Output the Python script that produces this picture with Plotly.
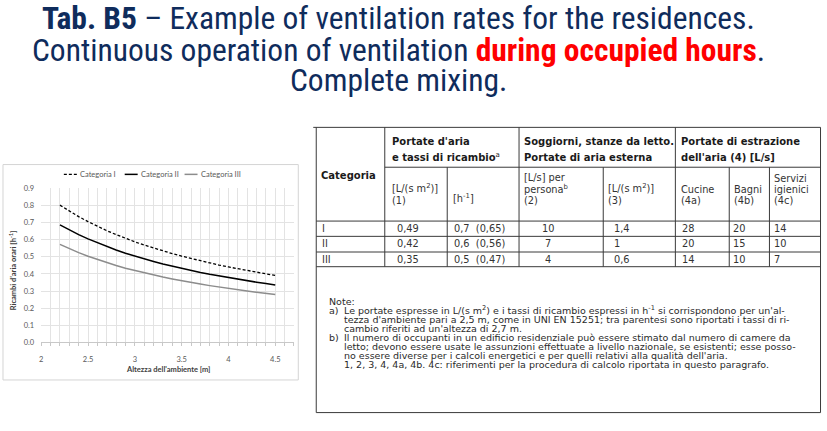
import plotly.graph_objects as go

W, H = 827, 431

# ---------------- chart data ----------------
heights = [2.2, 2.3, 2.4, 2.5, 2.6, 2.7, 2.8, 2.9, 3.0, 3.1, 3.2, 3.3,
           3.4, 3.5, 3.6, 3.7, 3.8, 3.9, 4.0, 4.1, 4.2, 4.3, 4.4, 4.5]
cat_I = [0.802, 0.767, 0.735, 0.706, 0.678, 0.653, 0.630, 0.608, 0.588, 0.569, 0.551, 0.535,
         0.519, 0.504, 0.490, 0.477, 0.464, 0.452, 0.441, 0.430, 0.420, 0.410, 0.401, 0.392]
cat_II = [0.687, 0.657, 0.630, 0.605, 0.582, 0.560, 0.540, 0.521, 0.504, 0.488, 0.473, 0.458,
          0.445, 0.432, 0.420, 0.409, 0.398, 0.388, 0.378, 0.369, 0.360, 0.352, 0.344, 0.336]
cat_III = [0.573, 0.548, 0.525, 0.504, 0.485, 0.467, 0.450, 0.434, 0.420, 0.406, 0.394, 0.382,
           0.371, 0.360, 0.350, 0.341, 0.332, 0.323, 0.315, 0.307, 0.300, 0.293, 0.286, 0.280]
series_names = ["Categoria I", "Categoria II", "Categoria III"]
x_ticks = [2, 2.5, 3, 3.5, 4, 4.5]
x_tick_labels = ["2", "2.5", "3", "3.5", "4", "4.5"]
y_ticks = [0.0, 0.1, 0.2, 0.3, 0.4, 0.5, 0.6, 0.7, 0.8, 0.9]
y_tick_labels = ["0.0", "0.1", "0.2", "0.3", "0.4", "0.5", "0.6", "0.7", "0.8", "0.9"]

# ---------------- table data ----------------
categories = ["I", "II", "III"]
col_Lsm2 = ["0,49", "0,42", "0,35"]
col_h = ["0,7  (0,65)", "0,6  (0,56)", "0,5  (0,47)"]
col_persona = ["10", "7", "4"]
col_Lsm2_b = ["1,4", "1", "0,6"]
col_cucine = ["28", "20", "14"]
col_bagni = ["20", "15", "10"]
col_servizi = ["14", "10", "7"]

notes_labels = ["Note:", "a)", "", "", "b)", "", "", ""]
notes_lines = [
    "",
    "Le portate espresse in L/(s m<sup>2</sup>) e i tassi di ricambio espressi in h<sup>-1</sup> si corrispondono per un'al-",
    "tezza d'ambiente pari a 2,5 m, come in UNI EN 15251; tra parentesi sono riportati i tassi di ri-",
    "cambio riferiti ad un'altezza di 2,7 m.",
    "Il numero di occupanti in un edificio residenziale può essere stimato dal numero di camere da",
    "letto; devono essere usate le assunzioni effettuate a livello nazionale, se esistenti; esse posso-",
    "no essere diverse per i calcoli energetici e per quelli relativi alla qualità dell'aria.",
    "1, 2, 3, 4, 4a, 4b. 4c: riferimenti per la procedura di calcolo riportata in questo paragrafo.",
]


def px(x):
    return x / W


def py(y):
    return 1 - y / H


fig = go.Figure()
line_styles = [dict(color="#000000", width=1.3, dash="3px,2px"),
               dict(color="#000000", width=1.5),
               dict(color="#8c8c8c", width=1.5)]
for name, vals, ls in zip(series_names, [cat_I, cat_II, cat_III], line_styles):
    fig.add_trace(go.Scatter(x=heights, y=vals, mode="lines", name=name, line=ls,
                             showlegend=False, hoverinfo="skip"))

TICKFONT = dict(family="Lato, Carlito, 'Open Sans', sans-serif", size=7.5, color="#595959")
fig.update_layout(
    width=W, height=H, margin=dict(l=0, r=0, t=0, b=0),
    paper_bgcolor="white", plot_bgcolor="white",
    xaxis=dict(domain=[px(39.3), px(292.7)], range=[2, 4.7], tickvals=x_ticks, ticktext=x_tick_labels,
               showgrid=True, gridcolor="#e3e3e3", gridwidth=1,
               minor=dict(dtick=0.1, tick0=2, showgrid=True, gridcolor="#e3e3e3", ticks="outside",
                          ticklen=3, tickcolor="#c8c8c8"),
               ticks="outside", ticklen=3, tickcolor="#c8c8c8",
               showline=True, linecolor="#c8c8c8", linewidth=1, zeroline=False,
               tickfont=TICKFONT, ticklabelstandoff=7, fixedrange=True),
    yaxis=dict(domain=[py(345.7), py(188.3)], range=[0, 0.9], tickvals=y_ticks, ticktext=y_tick_labels,
               showgrid=True, gridcolor="#e3e3e3", gridwidth=1, zeroline=False, showline=False,
               tickfont=TICKFONT, ticklabelstandoff=6, fixedrange=True),
)

shapes = []
annotations = []

# chart frame
shapes.append(dict(type="rect", xref="paper", yref="paper", x0=px(1), x1=px(297), y0=py(384), y1=py(164),
                   line=dict(color="#d4d4d4", width=1)))

# legend (custom, Excel-like)
leg_font = dict(family="Lato, Carlito, 'Open Sans', sans-serif", size=7.5, color="#595959")
leg_x = [62, 123, 183]
for name, ls, lx in zip(series_names, line_styles, leg_x):
    shapes.append(dict(type="line", xref="paper", yref="paper", x0=px(lx), x1=px(lx + 13),
                       y0=py(174), y1=py(174), line=ls))
    annotations.append(dict(text=name, x=px(lx + 14), y=py(174), xref="paper", yref="paper",
                            xanchor="left", yanchor="middle", showarrow=False, font=leg_font))

# axis titles
ax_font = dict(family="Lato, Carlito, 'Open Sans', sans-serif", size=7.5, color="#404040")
annotations.append(dict(text="<b>Altezza dell'ambiente [m]</b>", x=px(166), y=py(373), xref="paper",
                        yref="paper", showarrow=False, font=ax_font, xanchor="center", yanchor="middle"))
annotations.append(dict(text="<b>Ricambi d'aria orari [h<sup>-1</sup>]</b>", x=px(11), y=py(272),
                        xref="paper", yref="paper", showarrow=False, font=ax_font, textangle=-90,
                        xanchor="center", yanchor="middle"))

# title
TFONT = "'Liberation Sans Narrow', 'Arial Narrow', 'Roboto Condensed', 'Liberation Sans', sans-serif"
navy = "#0f2c5c"
title_lines = [
    ("<b>Tab. B5</b> – Example of ventilation rates for the residences.", 14.5),
    ("Continuous operation of ventilation <b><span style='color:#ff0000'>during occupied hours</span></b>.", 47.5),
    ("Complete mixing.", 78.5),
]
for t, ty in title_lines:
    annotations.append(dict(text=t, x=px(397), y=py(ty), xref="paper", yref="paper", showarrow=False,
                            font=dict(family=TFONT, size=31.5, color=navy), xanchor="center", yanchor="middle"))

# ---------------- table ----------------
tcol = "#3a3a3a"
lw = 1
L, R = 315, 820.5
TOP, R1, R2, RI, RII, RIII, BOT = 126, 166.7, 221.7, 237.3, 253.3, 268.3, 417.3
hlines = [(312, R, TOP), (383.7, R, R1), (L, R, R2), (L, R, RI), (L, R, RII), (L, R, RIII), (L, R, BOT)]
vlines = [(L, TOP, BOT), (383.7, TOP, RIII), (446.3, R1, RIII), (518.3, TOP, RIII), (602.7, R1, RIII),
          (675, TOP, RIII), (729, R1, RIII), (769.3, R1, RIII), (R, TOP, BOT)]
for x0, x1, y in hlines:
    shapes.append(dict(type="line", xref="paper", yref="paper", x0=px(x0), x1=px(x1), y0=py(y), y1=py(y),
                       line=dict(color=tcol, width=lw)))
for x, y0, y1 in vlines:
    shapes.append(dict(type="line", xref="paper", yref="paper", x0=px(x), x1=px(x), y0=py(y0), y1=py(y1),
                       line=dict(color=tcol, width=lw)))

TBF = "'DejaVu Sans', Verdana, sans-serif"
hdr_font = dict(family=TBF, size=10, color="#1a1a1a")
cell_font = dict(family=TBF, size=9.8, color="#333333")


def txt(s, x, y, font, anchor="left"):
    # y is the visual centre of a plain line; anchor the box bottom so that
    # superscripts grow upward and baselines stay aligned
    off = (font["size"] * 1.3 + 2) / 2
    annotations.append(dict(text=s, x=px(x), y=py(y + off), xref="paper", yref="paper", showarrow=False,
                            font=font, xanchor=anchor, yanchor="bottom", borderpad=1))


txt("<b>Categoria</b>", 318, 175, hdr_font)
txt("<b>Portate d'aria</b>", 389, 141, hdr_font)
txt("<b>e tassi di ricambio</b><sup>a</sup>", 389, 157, hdr_font)
txt("<b>Soggiorni, stanze da letto.</b>", 521, 141, hdr_font)
txt("<b>Portate di aria esterna</b>", 521, 157, hdr_font)
txt("<b>Portate di estrazione</b>", 679, 141, hdr_font)
txt("<b>dell'aria (4) [L/s]</b>", 679, 157, hdr_font)

txt("[L/(s m<sup>2</sup>)]", 389, 189, cell_font)
txt("(1)", 389, 201, cell_font)
txt("[h<sup>-1</sup>]", 450, 199, cell_font)
txt("[L/s] per", 521, 178, cell_font)
txt("persona<sup>b</sup>", 521, 189.5, cell_font)
txt("(2)", 521, 201, cell_font)
txt("[L/(s m<sup>2</sup>)]", 605, 189, cell_font)
txt("(3)", 605, 201, cell_font)
txt("Cucine", 679, 189.5, cell_font)
txt("(4a)", 679, 201, cell_font)
txt("Bagni", 732, 189.5, cell_font)
txt("(4b)", 732, 201, cell_font)
txt("Servizi", 772, 178.5, cell_font)
txt("igienici", 772, 189.5, cell_font)
txt("(4c)", 772, 201, cell_font)

row_y = [229.5, 245.3, 260.8]
for i, yv in enumerate(row_y):
    txt(categories[i], 319, yv, cell_font)
    txt(col_Lsm2[i], 394, yv, cell_font)
    txt(col_h[i], 451, yv, cell_font)
    txt(col_persona[i], 547, yv, cell_font, anchor="center")
    txt(col_Lsm2_b[i], 611, yv, cell_font)
    txt(col_cucine[i], 680, yv, cell_font)
    txt(col_bagni[i], 731, yv, cell_font)
    txt(col_servizi[i], 772, yv, cell_font)

note_font = dict(family=TBF, size=9.5, color="#2a2a2a")
note_y0, note_dy = 304, 9.25
for k, (lab, line) in enumerate(zip(notes_labels, notes_lines)):
    yv = note_y0 + k * note_dy
    if lab:
        txt(lab, 326, yv, note_font)
    if line:
        txt(line, 340.7, yv, note_font)

fig.update_layout(shapes=shapes, annotations=annotations)
fig.write_html("out.html")
